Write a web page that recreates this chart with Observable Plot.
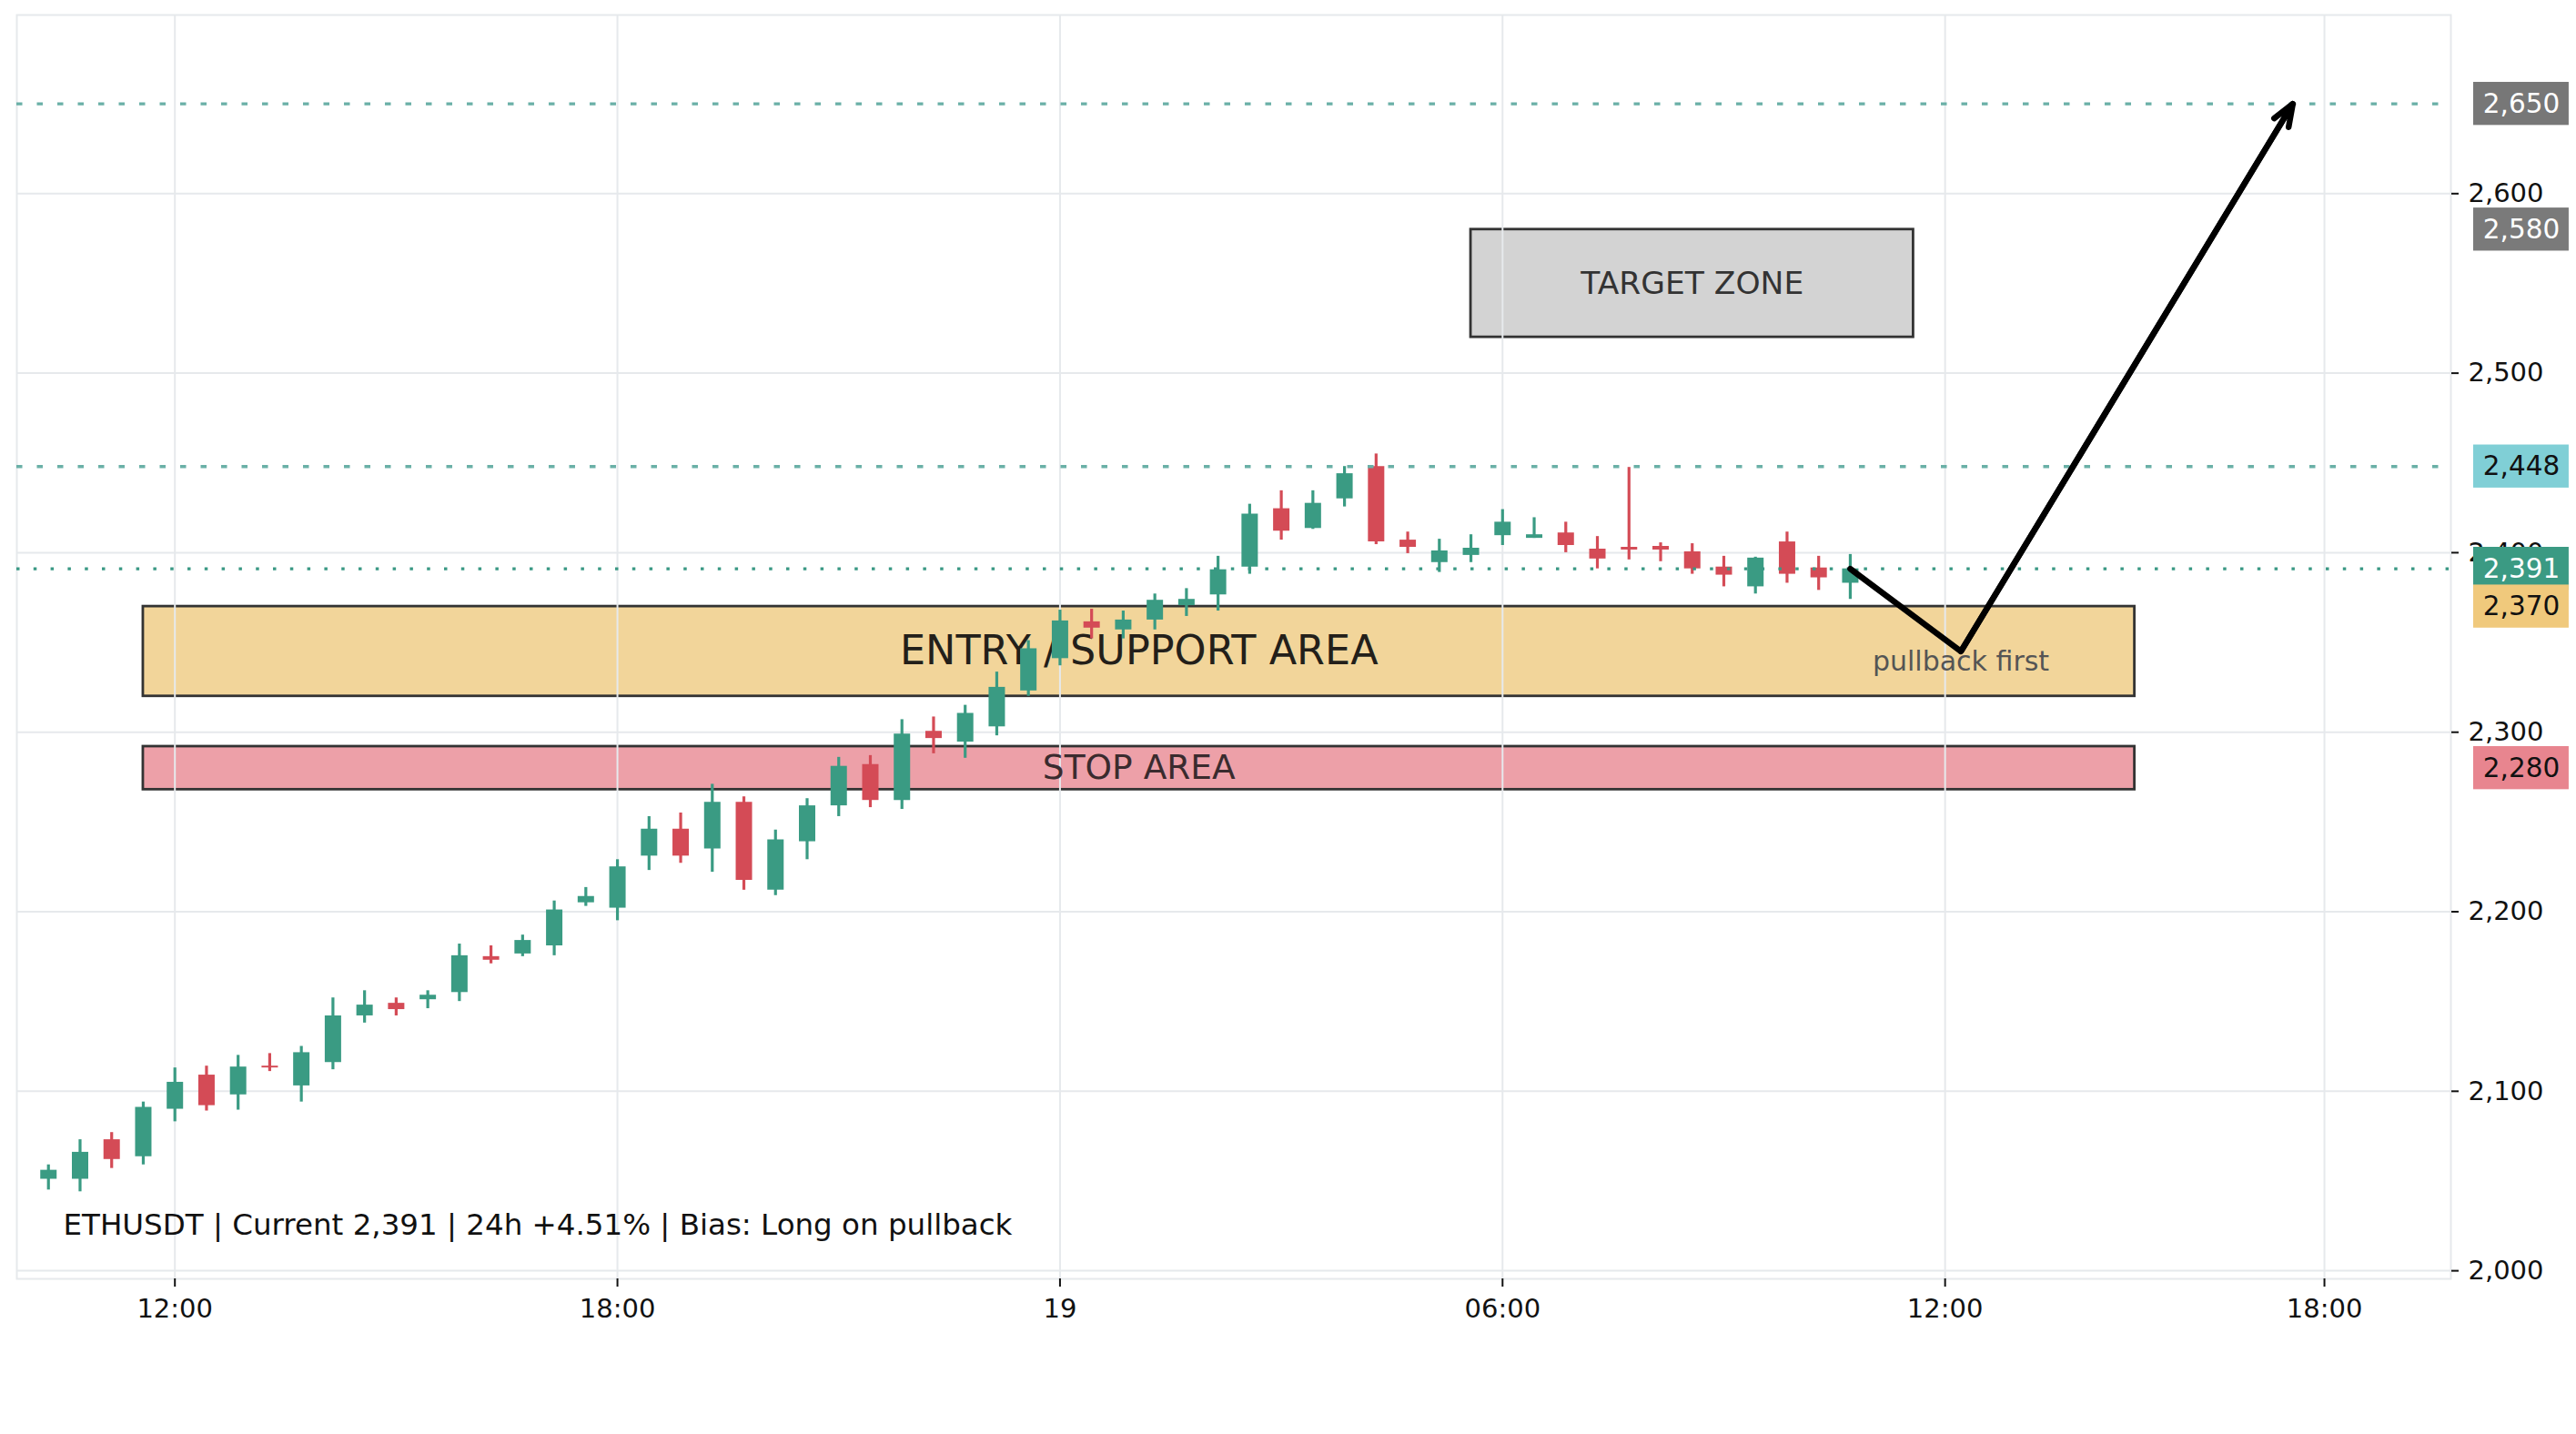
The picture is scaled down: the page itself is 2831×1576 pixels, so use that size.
<!DOCTYPE html>
<html>
<head>
<meta charset="utf-8">
<script src="https://cdn.jsdelivr.net/npm/d3@7"></script>
<script src="https://cdn.jsdelivr.net/npm/@observablehq/plot@0.6"></script>
<style>
  html, body { margin: 0; padding: 0; background: #ffffff; }
  #chart svg { display: block; }
</style>
</head>
<body>
<div id="chart"></div>
<script>
// ---- candle slots (x positions in bar units) ----
const slots = [0,1,2,3,4,5,6,7,8,9,10,11,12,13,14,15,16,17,18,19,20,21,22,23,24,25,26,27,28,29,
  30,31,32,33,34,35,36,37,38,39,40,41,42,43,44,45,46,47,48,49,50,51,52,53,54,55,56,57];
const openP  = [2051,2051,2073,2063.5,2090,2109,2098,2114,2103,2116,2142,2149,2151,2155,2175,2176.5,2181,2205,2202,2231,
  2246,2235,2261,2212,2239,2259,2282,2262,2300.5,2294.5,2303,2323,2341,2361.5,2357,2362.5,2370.5,2376.5,2392,2424.5,
  2413.5,2430,2448,2407,2394.5,2398.5,2409.5,2408,2411,2402,2403,2403.5,2400.5,2392,2381,2406,2391.5,2383];
const highP  = [2059,2073,2077,2094,2113,2114,2120,2121,2125,2152,2156,2152,2156,2182,2181,2187,2206,2213.5,2229,2253,
  2255,2271,2264,2245.5,2263,2286,2287,2307,2308.5,2315,2333.5,2351,2368,2368.5,2367.5,2377,2380,2398,2427,2434.5,
  2434.5,2448,2455,2411.5,2407.5,2410,2424,2419.5,2417,2409,2447.5,2405.5,2405,2398,2397.5,2411.5,2398,2399];
const lowP   = [2045,2044,2057,2059,2083,2089,2089.5,2111,2094,2112,2138,2142,2146,2150,2171,2175,2175.5,2203,2195,2223,
  2227,2222,2212,2209,2229,2253,2258,2257,2288,2285.5,2298,2320,2337,2352,2352,2357,2364.5,2367.5,2388,2407,
  2413,2425.5,2404.5,2399.5,2389,2394.5,2404,2408,2400,2391,2396,2395,2388,2381,2377,2383,2379,2374];
const closeP = [2056,2066,2062,2091,2105,2092,2113.5,2113,2121.5,2142,2148,2145.5,2153.5,2175.5,2173,2184,2201,2208.5,2225,2246,
  2231,2261,2217.5,2240,2259,2281,2262,2299,2296.5,2310.5,2325,2346.5,2362,2358,2362.5,2373.5,2374,2390.5,2421.5,2412,
  2427.5,2444,2406,2403,2401,2402.5,2417,2410,2404,2396.5,2401.5,2401.5,2391,2387.5,2397,2388,2386,2391];

// ---- x axis ticks ----
const xTickPos = [4, 18, 32, 46, 60, 72];
const xTickLabels = ["12:00", "18:00", "19", "06:00", "12:00", "18:00"];
// ---- y axis ticks ----
const yTicks = [2000, 2100, 2200, 2300, 2400, 2500, 2600];

// ---- zones ----
const zoneNames = ["ENTRY / SUPPORT AREA", "STOP AREA", "TARGET ZONE"];
const zoneStart = [3, 3, 45];
const zoneEnd   = [66, 66, 59];
const zoneLow   = [2320, 2268, 2520];
const zoneHigh  = [2370, 2292, 2580];
const zoneFill  = ["#f2d59a", "#eda0a8", "#d3d3d3"];
const zoneTextColor = ["#231f1a", "#3a2b2e", "#333333"];
const zoneFontSize = [44.5, 37.5, 34.5];

// ---- horizontal levels ----
const levelValues = [2650, 2448, 2391];
const levelColors = ["#6ab0a7", "#6ab0a7", "#3a9884"];

// ---- projected path ----
const pathX = [57, 60.5, 71];
const pathY = [2391, 2345, 2650];
const pathNote = "pullback first";

// ---- right-hand price labels ----
const tagValues = [2650, 2580, 2448, 2391, 2370, 2280];
const tagFills  = ["#777777", "#7a7a7a", "#80cfd6", "#3b9a83", "#f0c97c", "#e8858f"];
const tagText   = ["#ffffff", "#ffffff", "#111111", "#ffffff", "#111111", "#111111"];

const statusLine = "ETHUSDT | Current 2,391 | 24h +4.51% | Bias: Long on pullback";

// ---- build tables ----
const UP = "#3a9b83", DOWN = "#d44b56";
const candles = slots.map((s, i) => ({
  slot: s, open: openP[i], high: highP[i], low: lowP[i], close: closeP[i],
  color: closeP[i] >= openP[i] ? UP : DOWN
}));
const zones = zoneNames.map((n, i) => ({
  name: n, x1: zoneStart[i], x2: zoneEnd[i], lo: zoneLow[i], hi: zoneHigh[i],
  fill: zoneFill[i], tc: zoneTextColor[i], fs: zoneFontSize[i]
}));
const levels = levelValues.map((v, i) => ({value: v, color: levelColors[i]}));
const path = pathX.map((x, i) => ({x, y: pathY[i]}));
const lastLeg = [{x1: pathX[1], y1: pathY[1], x2: pathX[2], y2: pathY[2]}];
const tags = tagValues.map((v, i) => ({value: v, fill: tagFills[i], tc: tagText[i], label: d3.format(",")(v)}));

const fmt = d3.format(",");
const GRID = "#e6e9ec";
const TAG_X1 = 76.72, TAG_X2 = 79.74, TAG_HALF = 12;

const zoneTextMarks = zones.map(z => Plot.text([z], {
  x: d => (d.x1 + d.x2) / 2, y: d => (d.lo + d.hi) / 2, text: "name",
  fill: z.tc, fontSize: z.fs, fontFamily: "DejaVu Sans"
}));

const chart = Plot.plot({
  width: 2831,
  height: 1576,
  marginTop: 16,
  marginBottom: 171,
  marginLeft: 18,
  marginRight: 138,
  style: {fontFamily: "DejaVu Sans", fontSize: "29px", color: "#111", background: "#fff"},
  x: {domain: [-1, 76]},
  y: {domain: [1995.5, 2699.5]},
  color: {type: "identity"},
  marks: [
    Plot.rect(zones, {x1: "x1", x2: "x2", y1: "lo", y2: "hi", fill: "fill", stroke: "#333333", strokeWidth: 2.8}),
    Plot.gridX(xTickPos, {stroke: GRID, strokeOpacity: 1, strokeWidth: 2}),
    Plot.gridY(yTicks, {stroke: GRID, strokeOpacity: 1, strokeWidth: 2}),
    Plot.frame({stroke: GRID, strokeWidth: 2}),
    ...zoneTextMarks,
    Plot.ruleX(candles, {x: "slot", y1: "low", y2: "high", stroke: "color", strokeWidth: 3.2}),
    Plot.ruleX(candles, {x: "slot", y1: "open", y2: "close", stroke: "color", strokeWidth: 18}),
    Plot.ruleY(levels.slice(0, 2), {y: "value", stroke: "color", strokeWidth: 3.4, strokeDasharray: "6.5,16"}),
    Plot.ruleY(levels.slice(2), {y: "value", stroke: "color", strokeWidth: 3.2, strokeDasharray: "3.5,15.3"}),
    Plot.line(path, {x: "x", y: "y", stroke: "#000", strokeWidth: 6.5, strokeLinejoin: "miter"}),
    Plot.arrow(lastLeg, {x1: "x1", y1: "y1", x2: "x2", y2: "y2", stroke: "#000", strokeWidth: 6.5,
      headLength: 6, headAngle: 42}),
    Plot.text([pathNote], {x: () => pathX[1], y: () => pathY[1], text: d => d, lineAnchor: "top",
      fill: "#555555", fontSize: 30}),
    Plot.text([statusLine], {frameAnchor: "bottom-left", text: d => d, textAnchor: "start",
      lineAnchor: "middle", dx: 51, dy: -59, fill: "#111111", fontSize: 32.5}),
    Plot.axisY({anchor: "right", ticks: yTicks, tickFormat: fmt, tickSize: 8, tickPadding: 11,
      fontSize: 29, label: null, strokeWidth: 2}),
    Plot.axisX({anchor: "bottom", ticks: xTickPos, tickFormat: d => xTickLabels[xTickPos.indexOf(d)],
      tickSize: 9, tickPadding: 13, fontSize: 29, label: null, strokeWidth: 2}),
    Plot.rect(tags, {x1: () => TAG_X1, x2: () => TAG_X2, y1: d => d.value - TAG_HALF, y2: d => d.value + TAG_HALF,
      fill: "fill"}),
    Plot.text(tags, {x: () => (TAG_X1 + TAG_X2) / 2, y: "value", text: "label", fill: "tc", fontSize: 29.5})
  ]
});
document.getElementById("chart").appendChild(chart);
</script>
</body>
</html>
